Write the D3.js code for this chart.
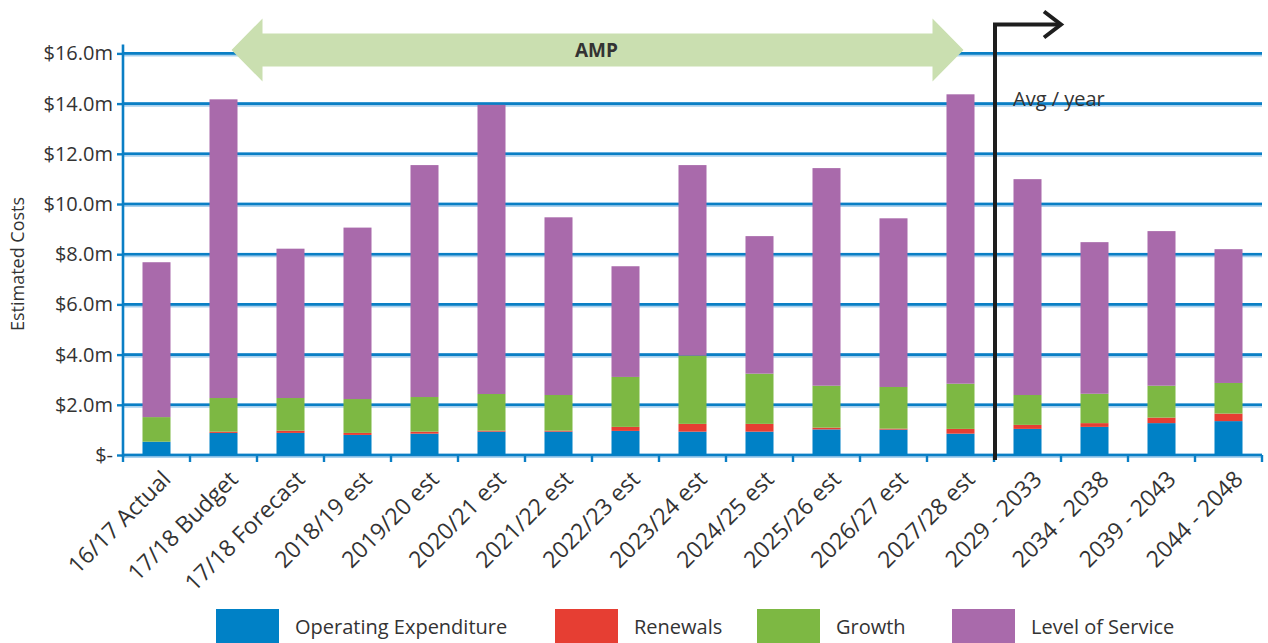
<!DOCTYPE html>
<html>
<head>
<meta charset="utf-8">
<script src="https://cdn.jsdelivr.net/npm/d3@7"></script>
<style>
  body { margin: 0; background: #fff; }
  svg { display: block; font-family: "Open Sans", "Noto Sans", sans-serif; }
</style>
</head>
<body>
<svg id="chart" width="1268" height="643"></svg>
<script>
// ---- data ($ millions) ----
const categories = ["16/17 Actual", "17/18 Budget", "17/18 Forecast", "2018/19 est", "2019/20 est",
  "2020/21 est", "2021/22 est", "2022/23 est", "2023/24 est", "2024/25 est", "2025/26 est",
  "2026/27 est", "2027/28 est", "2029 - 2033", "2034 - 2038", "2039 - 2043", "2044 - 2048"];
const operatingExpenditure = [0.53, 0.88, 0.88, 0.80, 0.85, 0.93, 0.93, 0.96, 0.93, 0.93, 1.02, 1.01, 0.85, 1.04, 1.12, 1.27, 1.35];
const renewals             = [0.00, 0.05, 0.09, 0.08, 0.08, 0.04, 0.04, 0.16, 0.31, 0.31, 0.07, 0.04, 0.19, 0.16, 0.15, 0.22, 0.30];
const growth               = [0.98, 1.34, 1.30, 1.35, 1.38, 1.46, 1.42, 1.99, 2.72, 2.00, 1.67, 1.66, 1.80, 1.19, 1.17, 1.27, 1.22];
const levelOfService       = [6.17, 11.90, 5.95, 6.83, 9.24, 11.52, 7.08, 4.41, 7.59, 5.48, 8.67, 6.72, 11.53, 8.60, 6.04, 6.16, 5.33];

const seriesNames = ["Operating Expenditure", "Renewals", "Growth", "Level of Service"];
const seriesColors = ["#0081c6", "#e63e33", "#7db843", "#a96aab"];
const yTickValues = [0, 2, 4, 6, 8, 10, 12, 14, 16];
const yTickLabels = ["$-", "$2.0m", "$4.0m", "$6.0m", "$8.0m", "$10.0m", "$12.0m", "$14.0m", "$16.0m"];
const axisTitle = "Estimated Costs";
const periodLabel = "AMP";
const averageLabel = "Avg / year";

// ---- layout ----
const plotLeft = 123, plotRight = 1262, plotBottom = 455, plotTop = 53.4;
const textColor = "#333";
const gridBlue = "#0a7fc5";
const fontStack = '"Open Sans", "Noto Sans", sans-serif';

const svg = d3.select("#chart");

const x = d3.scaleBand()
  .domain(categories)
  .range([plotLeft, plotRight])
  .paddingInner(0.582)
  .paddingOuter(0.291);

const y = d3.scaleLinear().domain([0, 16]).range([plotBottom, plotTop]);

const step = x.step();
const boundary = i => plotLeft + step * i;
const center = i => x(categories[i]) + x.bandwidth() / 2;

// gridlines (soft halo under a solid blue line)
const grid = svg.append("g");
grid.selectAll("line.halo").data(yTickValues).join("line")
  .attr("class", "halo")
  .attr("x1", plotLeft).attr("x2", plotRight)
  .attr("y1", d => y(d) + 0.8).attr("y2", d => y(d) + 0.8)
  .attr("stroke", "#a9d1ee").attr("stroke-width", 4.5);
grid.selectAll("line.main").data(yTickValues).join("line")
  .attr("class", "main")
  .attr("x1", plotLeft).attr("x2", plotRight)
  .attr("y1", d => y(d)).attr("y2", d => y(d))
  .attr("stroke", gridBlue).attr("stroke-width", 2.6);

// y axis
const yAxis = d3.axisLeft(y)
  .tickValues(yTickValues)
  .tickFormat((d, i) => yTickLabels[i])
  .tickSizeInner(6).tickSizeOuter(0).tickPadding(4);
const gy = svg.append("g").attr("transform", `translate(${plotLeft},0)`).call(yAxis)
  .attr("font-family", fontStack).attr("font-size", 20);
gy.select(".domain").remove();
gy.selectAll(".tick line").attr("stroke", gridBlue).attr("stroke-width", 2.4);
gy.selectAll(".tick text").attr("fill", textColor);
svg.append("line")
  .attr("x1", plotLeft).attr("x2", plotLeft)
  .attr("y1", plotBottom + 2).attr("y2", plotTop - 9)
  .attr("stroke", gridBlue).attr("stroke-width", 2.6);

// x axis: ticks at category boundaries, rotated labels
const boundaries = d3.range(categories.length + 1);
svg.append("g").selectAll("line").data(boundaries).join("line")
  .attr("x1", d => boundary(d)).attr("x2", d => boundary(d))
  .attr("y1", plotBottom).attr("y2", plotBottom + 7)
  .attr("stroke", gridBlue).attr("stroke-width", 2.4);

const xAxis = d3.axisBottom(x).tickSize(0).tickPadding(0);
const gx = svg.append("g").attr("transform", `translate(0,${plotBottom})`).call(xAxis)
  .attr("font-family", fontStack).attr("font-size", 23);
gx.select(".domain").remove();
gx.selectAll(".tick text")
  .attr("fill", textColor)
  .attr("text-anchor", "end")
  .attr("dy", "0.35em")
  .attr("transform", "translate(10,20) rotate(-45)");

// stacked bars
const rows = categories.map((c, i) => ({
  category: c,
  "Operating Expenditure": operatingExpenditure[i],
  "Renewals": renewals[i],
  "Growth": growth[i],
  "Level of Service": levelOfService[i]
}));
const stacked = d3.stack().keys(seriesNames)(rows);
const color = d3.scaleOrdinal().domain(seriesNames).range(seriesColors);

svg.append("g").selectAll("g").data(stacked).join("g")
  .attr("fill", d => color(d.key))
  .selectAll("rect").data(d => d).join("rect")
  .attr("x", d => x(d.data.category))
  .attr("width", x.bandwidth())
  .attr("y", d => y(d[1]))
  .attr("height", d => y(d[0]) - y(d[1]));

// y axis title
svg.append("text")
  .attr("transform", "translate(24,264) rotate(-90)")
  .attr("text-anchor", "middle")
  .attr("fill", textColor)
  .style("font-size", "18px")
  .text(axisTitle);

// AMP double-headed arrow spanning the plan period
const ampLeft = center(1) + 8, ampRight = center(12) + 3;
const ampMid = 50, shaftHalf = 16.5, headHalf = 31.5, headLen = 31;
const ampPath = d3.path();
ampPath.moveTo(ampLeft, ampMid);
ampPath.lineTo(ampLeft + headLen, ampMid - headHalf);
ampPath.lineTo(ampLeft + headLen, ampMid - shaftHalf);
ampPath.lineTo(ampRight - headLen, ampMid - shaftHalf);
ampPath.lineTo(ampRight - headLen, ampMid - headHalf);
ampPath.lineTo(ampRight, ampMid);
ampPath.lineTo(ampRight - headLen, ampMid + headHalf);
ampPath.lineTo(ampRight - headLen, ampMid + shaftHalf);
ampPath.lineTo(ampLeft + headLen, ampMid + shaftHalf);
ampPath.lineTo(ampLeft + headLen, ampMid + headHalf);
ampPath.closePath();
svg.append("path").attr("d", ampPath.toString()).attr("fill", "#cadfb0");
svg.append("text")
  .attr("x", (ampLeft + ampRight) / 2 - 1).attr("y", ampMid)
  .attr("dy", "0.35em")
  .attr("text-anchor", "middle")
  .attr("fill", textColor)
  .style("font-size", "19px").style("font-weight", "bold")
  .text(periodLabel);

// bent arrow marking the start of the averaged periods
const splitX = boundary(13) + 1;
const elbowY = 24.5, arrowTip = splitX + 66;
svg.append("path")
  .attr("d", `M${splitX},${plotBottom + 5} L${splitX},${elbowY} L${arrowTip - 2},${elbowY}`)
  .attr("fill", "none").attr("stroke", "#1e1e1e").attr("stroke-width", 4);
svg.append("path")
  .attr("d", `M${arrowTip - 17},${elbowY - 13} L${arrowTip},${elbowY} L${arrowTip - 17},${elbowY + 13}`)
  .attr("fill", "none").attr("stroke", "#1e1e1e").attr("stroke-width", 4)
  .attr("stroke-linejoin", "miter");
svg.append("text")
  .attr("x", splitX + 18).attr("y", 106)
  .attr("fill", textColor)
  .style("font-size", "20px")
  .text(averageLabel);

// legend
const legendX = [216, 555, 757, 952];
const legend = svg.append("g").selectAll("g").data(seriesNames).join("g")
  .attr("transform", (d, i) => `translate(${legendX[i]},609)`);
legend.append("rect")
  .attr("width", 63).attr("height", 40)
  .attr("fill", d => color(d));
legend.append("text")
  .attr("x", 79).attr("y", 18)
  .attr("dy", "0.35em")
  .attr("fill", textColor)
  .style("font-size", "20px")
  .text(d => d);
</script>
</body>
</html>
